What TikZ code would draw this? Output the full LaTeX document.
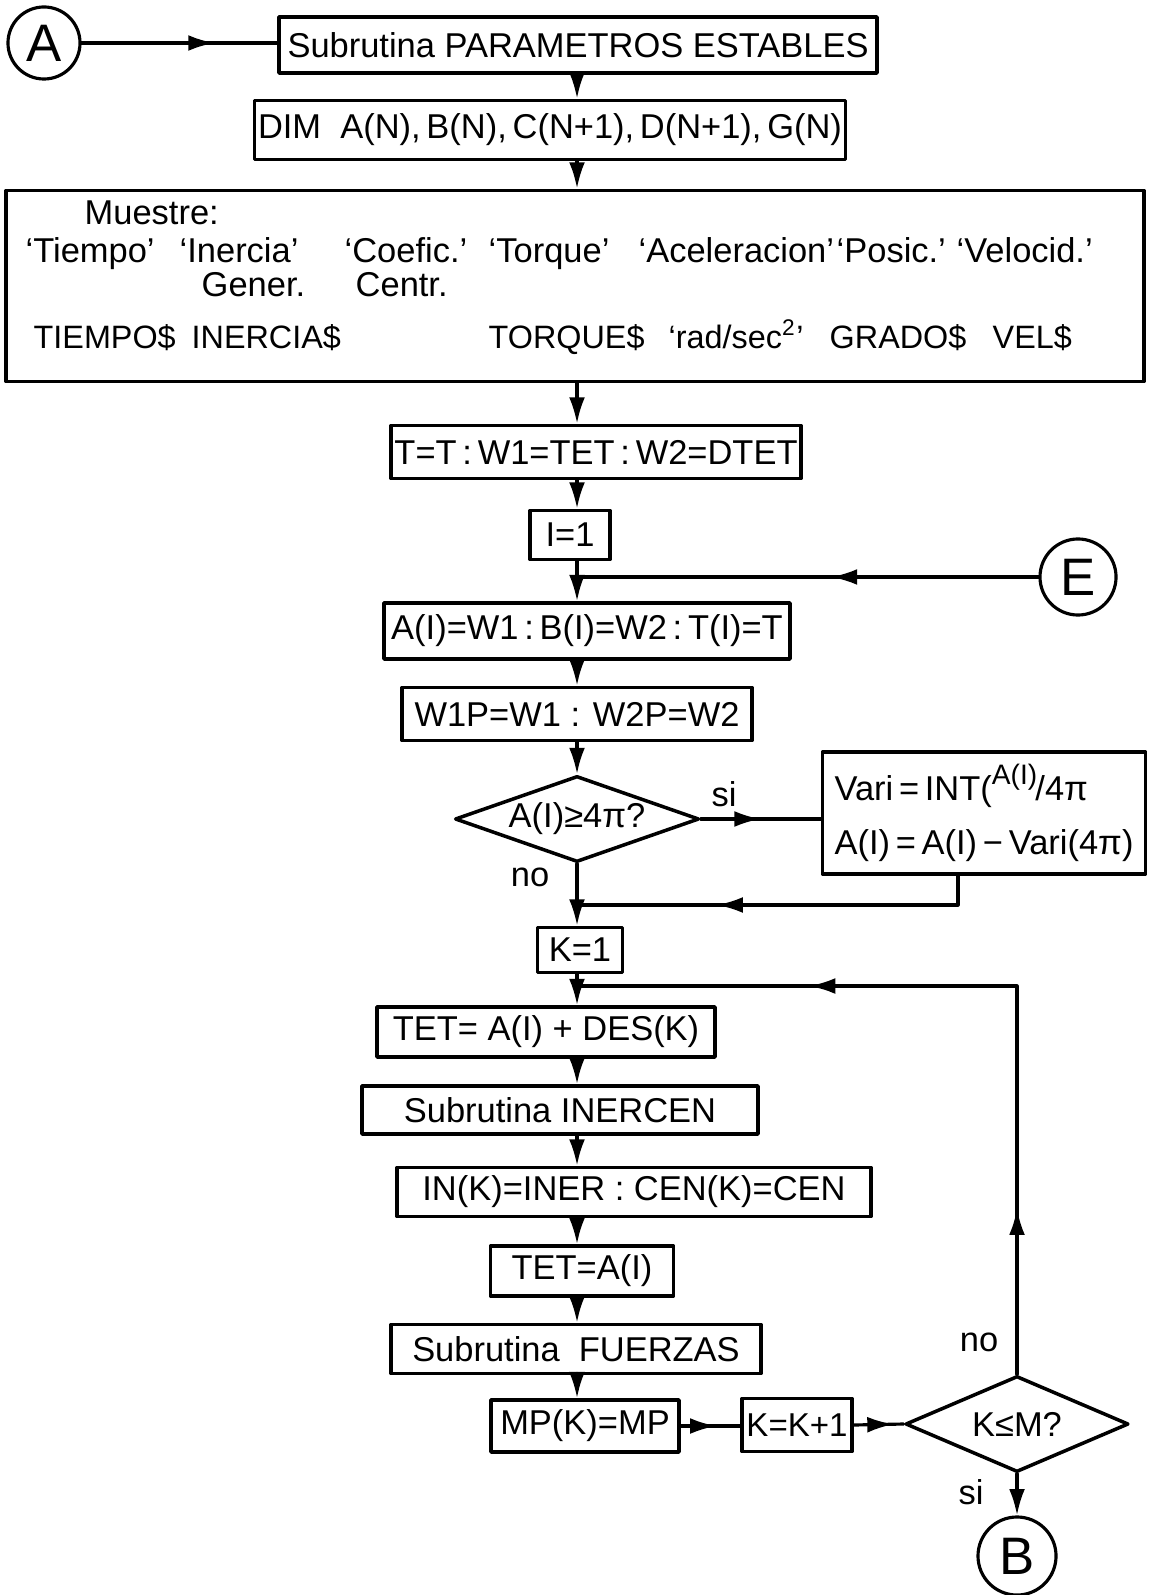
\documentclass[tikz,border=0pt]{standalone}
\usepackage{fontspec}
\setmainfont{Liberation Sans}
\usetikzlibrary{arrows.meta,shapes.geometric,decorations.markings}

\begin{document}
\begin{tikzpicture}[x=0.01cm, y=-0.01cm, line join=round, line cap=round,
  >={Latex[length=7.5pt,width=4.5pt]}, font=\fontsize{9.8}{12}\selectfont,
  box/.style={draw, line width=1pt, inner sep=1pt},
  test/.style={draw, diamond, line width=1pt, inner sep=0pt},
  port/.style={draw, circle, line width=0.9pt, inner sep=0pt, font=\fontsize{15}{18}\selectfont},
  conn/.style={line width=0.9pt},
  midarr/.style={postaction={decorate, decoration={markings, mark=at position #1 with {\arrow{>}}}}},
  midarr/.default=0.55]
\useasboundingbox (0,0) rectangle (1150,1595);
\coordinate (ax) at (577,0);
\coordinate (vj) at (577,905);
\coordinate (kj) at (577,986);
% main column of boxes: name/x/y/width/height/text
\foreach \n/\x/\y/\w/\h/\t in {
  b1/578/45/598/56/{Subrutina PARAMETROS ESTABLES},
  b2/550/130/588/59/{DIM\ \ A(N),\,B(N),\,C(N+1),\,D(N+1),\,G(N)},
  b4/596/452/409/53/{T=T\,:\,W1=TET\,:\,W2=DTET},
  b5/570/535/80/49/{I=1},
  b6/587/631/406/56/{A(I)=W1\,:\,B(I)=W2\,:\,T(I)=T},
  b7/577/714/350/53/{W1P=W1 : W2P=W2},
  k1/580/950/85/45/{K=1},
  b8/546/1032/338/50/{TET= A(I) + DES(K)},
  b9/560/1110/396/48/{Subrutina INERCEN},
  b10/634/1192/474/49/{IN(K)=INER : CEN(K)=CEN},
  b11/582/1271/183/50/{TET=A(I)},
  b12/576/1349/370/49/{Subrutina\ \ FUERZAS},
  b13/585/1426/188/52/{MP(K)=MP},
  b14/797/1425/110/53/{\fontsize{9.4}{11}\selectfont K=K+1}}
  \node[box, minimum width=\w*0.01cm, minimum height=\h*0.01cm] (\n) at (\x,\y) {\t};
% output box
\node[box, minimum width=11.37cm, minimum height=1.91cm] (b3) at (575,286) {};
\node[anchor=base west, inner sep=0pt] (mu) at (84,225) {Muestre:};
\foreach \x/\t in {25/{`Tiempo'}, 179/{`Inercia'}, 344/{`Coefic.'}, 488/{`Torque'},
  638/{`Aceleracion'}, 836/{`Posic.'}, 956/{`Velocid.'}}
  \node[anchor=base west, inner sep=0pt] (ra\x) at (\x,263) {\t};
\foreach \x/\t in {201/Gener., 355/Centr.}
  \node[anchor=base west, inner sep=0pt] (rb\x) at (\x,297) {\t};
\foreach \x/\t in {33/TIEMPO\$, 191/INERCIA\$, 488/TORQUE\$, 668/{`rad/sec\textsuperscript{2}'},
  829/GRADO\$, 992/VEL\$}
  \node[anchor=base west, inner sep=0pt, font=\fontsize{9.2}{11}\selectfont] (rc\x) at (\x,349) {\t};
% decisions, side box and connectors
\node[test, shape aspect=2.84, minimum width=2.44cm, minimum height=0.86cm] (d1) at (577,819) {A(I)≥4π?};
\node[box, minimum width=3.23cm, minimum height=1.22cm, align=left, font=\fontsize{9.8}{15.3}\selectfont] (vari) at (984,813)
  {Vari\,=\,INT(\raisebox{0.9ex}{\fontsize{8}{9}\selectfont A(I)}\kern-0.5pt/4π\\A(I)\,=\,A(I)\,−\,Vari(4π)};
\node[test, shape aspect=2.32, minimum width=2.23cm, minimum height=0.96cm] (d2) at (1017,1424) {K≤M?};
\node[port, minimum size=0.72cm] (cA) at (44,43) {A};
\node[port, minimum size=0.76cm] (cE) at (1078,577) {E};
\node[port, minimum size=0.78cm] (cB) at (1017,1556) {B};
\node (si1) at (724,794) {si};
\node (no1) at (530,877) {no};
\node (no2) at (979,1342) {no};
\node (si2) at (971,1492) {si};

\foreach \a/\b in {b1/b2, b2/b3, b3/b4, b4/b5, b5/b6, b6/b7, b7/d1, d1/k1, k1/b8,
  b8/b9, b9/b10, b10/b11, b11/b12, b12/b13}
  \draw[conn, ->] (\a.south -| ax) -- (\b.north -| ax);
\draw[conn, midarr=0.68] (cA.east) -- (cA.east -| b1.west);
\draw[conn, midarr=0.45] (cE.west) -- (cE.west -| ax);
\draw[conn, midarr=0.5] (d1.east) -- (d1.east -| vari.west);
\draw[conn, midarr=0.66] ([xshift=-0.26cm]vari.south) |- (vj);
\draw[conn, midarr=0.2, midarr=0.72] (d2.north) |- (kj);
\draw[conn, midarr=0.6] (b13.east) -- (b13.east -| b14.west);
\draw[conn, midarr=0.8] (b14.east) -- (d2.west);
\draw[conn, ->] (d2.south) -- (cB.north);
\end{tikzpicture}
\end{document}
